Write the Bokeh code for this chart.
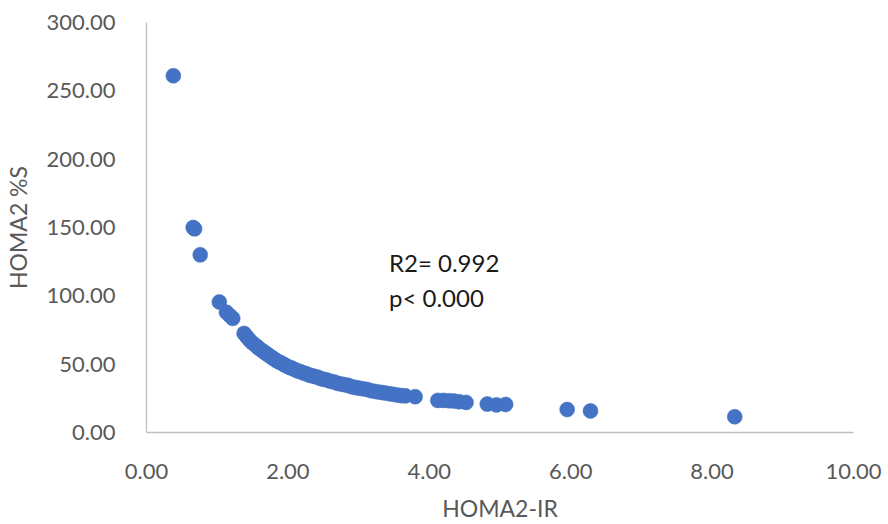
from bokeh.plotting import figure
from bokeh.models import Range1d, FixedTicker, NumeralTickFormatter, Label, ColumnDataSource
from bokeh.embed import file_html
from bokeh.resources import INLINE

# HOMA2-IR (x) vs HOMA2 %S (y)
homa2_ir = [0.38, 0.66, 0.68, 0.76, 1.03, 1.13, 1.18, 1.22, 1.38, 1.42, 1.46, 1.50,
            1.55, 1.58, 1.62, 1.66, 1.70, 1.73, 1.77, 1.80, 1.84, 1.88, 1.92, 1.95,
            1.99, 2.03, 2.06, 2.10, 2.14, 2.18, 2.22, 2.26, 2.30, 2.34, 2.38, 2.42,
            2.46, 2.50, 2.55, 2.60, 2.65, 2.70, 2.75, 2.80, 2.85, 2.90, 2.95, 3.00,
            3.06, 3.12, 3.18, 3.24, 3.30, 3.36, 3.42, 3.48, 3.54, 3.60, 3.66, 3.80,
            4.12, 4.20, 4.28, 4.35, 4.42, 4.52, 4.82, 4.95, 5.08, 5.95, 6.28, 8.32]
homa2_s = [261.0, 150.0, 149.0, 130.0, 95.5, 88.0, 85.5, 83.5, 72.5, 70.0, 67.5, 65.5,
           63.5, 62.0, 60.5, 59.0, 57.5, 56.5, 55.0, 54.0, 52.5, 51.5, 50.5, 49.5,
           48.5, 47.5, 47.0, 46.0, 45.0, 44.5, 43.5, 43.0, 42.0, 41.5, 41.0, 40.5,
           39.5, 39.0, 38.5, 37.5, 37.0, 36.0, 35.5, 35.0, 34.5, 33.5, 33.0, 32.5,
           32.0, 31.5, 30.5, 30.0, 29.5, 29.0, 28.5, 28.0, 27.5, 27.0, 26.8, 26.2,
           23.5, 23.5, 23.2, 23.0, 22.5, 22.0, 20.8, 20.2, 20.5, 16.8, 15.8, 11.5]

x_ticks = [0, 2, 4, 6, 8, 10]
y_ticks = [0, 50, 100, 150, 200, 250, 300]
x_title = "HOMA2-IR"
y_title = "HOMA2 %S"
annotation_lines = ["R2= 0.992", "p< 0.000"]

FONT = "Lato"
GREY = "#595959"

p = figure(width=888, height=524, output_backend="svg", toolbar_location=None,
           x_range=Range1d(0, 10), y_range=Range1d(0, 300),
           min_border_left=145, min_border_right=35, min_border_top=22, min_border_bottom=91)
p.outline_line_color = None
p.xgrid.visible = False
p.ygrid.visible = False
p.background_fill_color = "white"
p.border_fill_color = "white"

src = ColumnDataSource(dict(x=homa2_ir, y=homa2_s))
p.scatter("x", "y", source=src, size=15, fill_color="#4472C4", line_color="#4472C4",
          line_width=0.5)

for ax in (p.xaxis[0], p.yaxis[0]):
    ax.axis_line_color = "#BFBFBF"
    ax.axis_line_width = 1.3
    ax.major_tick_line_color = None
    ax.minor_tick_line_color = None
    ax.major_label_text_font = FONT
    ax.major_label_text_font_size = "22px"
    ax.major_label_text_color = GREY
    ax.axis_label_text_font = FONT
    ax.axis_label_text_font_size = "23px"
    ax.axis_label_text_color = GREY
    ax.axis_label_text_font_style = "normal"
    ax.formatter = NumeralTickFormatter(format="0.00")

p.xaxis[0].ticker = FixedTicker(ticks=x_ticks)
p.yaxis[0].ticker = FixedTicker(ticks=y_ticks)
p.xaxis[0].axis_label = x_title
p.yaxis[0].axis_label = y_title
p.xaxis[0].major_label_standoff = 25
p.xaxis[0].axis_label_standoff = 12
p.yaxis[0].major_label_standoff = 25
p.yaxis[0].axis_label_standoff = 12

p.add_layout(Label(x=3.43, y=124.5, text=annotation_lines[0], text_font=FONT,
                   text_font_size="24px", text_color="#1a1a1a",
                   text_baseline="alphabetic"))
p.add_layout(Label(x=3.43, y=98.5, text=annotation_lines[1], text_font=FONT,
                   text_font_size="24px", text_color="#1a1a1a",
                   text_baseline="alphabetic"))

open("out.html", "w").write(file_html(p, INLINE))
